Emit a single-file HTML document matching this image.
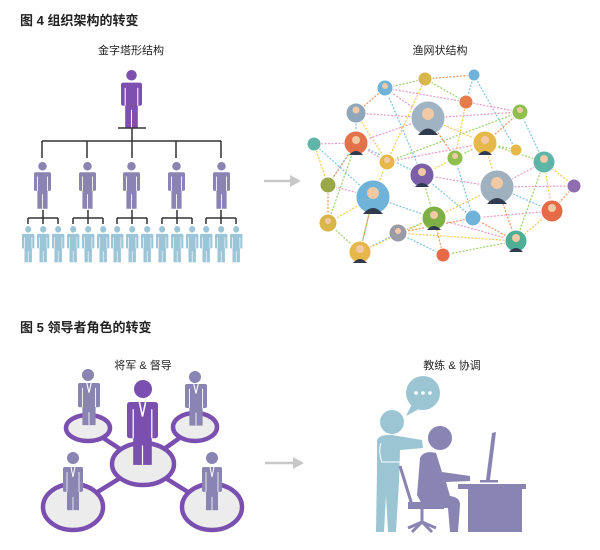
<!DOCTYPE html>
<html><head><meta charset="utf-8"><style>
body{margin:0;background:#fff}
svg{display:block}
text{font-family:"Liberation Sans","Noto Sans CJK SC",sans-serif}
</style></head><body>
<svg width="600" height="550" viewBox="0 0 600 550" xmlns="http://www.w3.org/2000/svg">
<defs>
<g id="p">
<circle cx="10" cy="5" r="5"/>
<rect x="0" y="12" width="20" height="22" rx="2"/>
<rect x="4" y="30" width="12" height="25"/>
<path d="M4 17V34M16 17V34M10 38V55" stroke="#fff" stroke-width="1" fill="none"/>
</g>
<g id="b">
<rect x="0" y="0" width="20" height="30" rx="2"/>
<rect x="4" y="28" width="12" height="24"/>
<path d="M8 0L10 12L12 0" stroke="#fff" stroke-width="1" fill="none"/>
<path d="M4 6V30M16 6V30M10 36V52" stroke="#fff" stroke-width="0.8" fill="none"/>
</g>
</defs>

<text x="20" y="25" font-size="13" font-weight="bold" fill="#222">图 4  组织架构的转变</text>
<text x="131" y="54" font-size="11" text-anchor="middle" fill="#222">金字塔形结构</text>
<text x="440" y="54" font-size="11" text-anchor="middle" fill="#222">渔网状结构</text>

<!-- pyramid -->
<use href="#p" fill="#7d4fae" transform="translate(121,70) scale(1.05)"/>
<g stroke="#333" stroke-width="1.5" fill="none">
<path d="M118 128H146M132 128V141M42 141H221"/>
<path d="M42 141V158M87 141V158M132 141V158M176 141V158M221 141V158"/>
<path d="M43 210V218M88 210V218M132 210V218M177 210V218M221 210V218"/>
<path d="M28 218H58M73 218H103M117 218H147M162 218H192M206 218H236"/>
<path d="M28 218V224M43 218V224M58 218V224M73 218V224M88 218V224M103 218V224M117 218V224M132 218V224M147 218V224M162 218V224M177 218V224M192 218V224M206 218V224M221 218V224M236 218V224"/>
</g>
<g fill="#8b84b3">
<use href="#p" transform="translate(34,162) scale(0.85)"/>
<use href="#p" transform="translate(79,162) scale(0.85)"/>
<use href="#p" transform="translate(123,162) scale(0.85)"/>
<use href="#p" transform="translate(168,162) scale(0.85)"/>
<use href="#p" transform="translate(213,162) scale(0.85)"/>
</g>
<g fill="#9cc6d8">
<use href="#p" transform="translate(22,226) scale(0.62,0.66)"/>
<use href="#p" transform="translate(37,226) scale(0.62,0.66)"/>
<use href="#p" transform="translate(52,226) scale(0.62,0.66)"/>
<use href="#p" transform="translate(67,226) scale(0.62,0.66)"/>
<use href="#p" transform="translate(82,226) scale(0.62,0.66)"/>
<use href="#p" transform="translate(97,226) scale(0.62,0.66)"/>
<use href="#p" transform="translate(111,226) scale(0.62,0.66)"/>
<use href="#p" transform="translate(126,226) scale(0.62,0.66)"/>
<use href="#p" transform="translate(141,226) scale(0.62,0.66)"/>
<use href="#p" transform="translate(156,226) scale(0.62,0.66)"/>
<use href="#p" transform="translate(171,226) scale(0.62,0.66)"/>
<use href="#p" transform="translate(186,226) scale(0.62,0.66)"/>
<use href="#p" transform="translate(200,226) scale(0.62,0.66)"/>
<use href="#p" transform="translate(215,226) scale(0.62,0.66)"/>
<use href="#p" transform="translate(230,226) scale(0.62,0.66)"/>
</g>

<!-- arrows -->
<g stroke="#c8c8c8" stroke-width="2.5" fill="#c8c8c8">
<path d="M264 181H292"/><path d="M290 175L301 181L290 187Z" stroke="none"/>
<path d="M265 463H295"/><path d="M293 457L304 463L293 469Z" stroke="none"/>
</g>

<!-- network edges -->
<g stroke-width="1.2" stroke-dasharray="2,1.5" fill="none">
<path stroke="#e79ac0" d="M385 88L428 118M385 88L466 102M356 113L428 118M314 144L356 143M356 143L428 118M428 118L520 112M466 102L520 112M356 143L387 162M387 162L485 143M422 175L497 187M497 187L574 186M544 162L497 187M473 218L552 211M434 218L516 241M328 185L373 197"/>
<path stroke="#9bd06a" d="M425 79L466 102M425 79L385 88M356 143L328 223M387 162L520 112M455 158L485 143M485 143L516 150M422 175L434 218M373 197L360 252M434 218L398 233M516 241L443 255M544 162L516 241M328 223L360 252M485 143L544 162"/>
<path stroke="#7fc4e0" d="M385 88L422 175M474 75L516 150M474 75L466 102M356 113L356 143M314 144L373 197M356 143L422 175M455 158L473 218M497 187L552 211M422 175L473 218M373 197L434 218M398 233L443 255M328 185L356 143M360 252L398 233M520 112L544 162"/>
<path stroke="#f2c94c" d="M425 79L387 162M428 118L485 143M356 113L387 162M455 158L422 175M387 162L373 197M485 143L497 187M544 162L574 186M434 218L497 187M328 223L373 197M360 252L434 218M516 241L552 211M314 144L328 185M398 233L516 241M466 102L455 158M544 162L552 211"/>
<path stroke="#f0935a" d="M425 79L474 75M356 113L385 88M356 143L328 185M428 118L455 158M520 112L485 143M473 218L516 241M443 255L434 218M328 223L328 185M552 211L574 186M497 187L516 241M398 233L473 218M360 252L373 197"/>
</g>
<g stroke="#fff" stroke-width="1">
<circle cx="425" cy="79" r="7" fill="#d8b64a"/>
<circle cx="474" cy="75" r="6" fill="#6fb3d9"/>
<circle cx="385" cy="88" r="8" fill="#6fb3d9"/>
<circle cx="466" cy="102" r="7" fill="#e57c4a"/>
<circle cx="428" cy="118" r="17" fill="#9fb3c2"/>
<circle cx="356" cy="113" r="10" fill="#8fa7ba"/>
<circle cx="520" cy="112" r="8" fill="#8fbf4e"/>
<circle cx="356" cy="143" r="12" fill="#e3714a"/>
<circle cx="314" cy="144" r="7" fill="#5fb5a8"/>
<circle cx="485" cy="143" r="12" fill="#e6b84a"/>
<circle cx="516" cy="150" r="6" fill="#e6b84a"/>
<circle cx="387" cy="162" r="8" fill="#e6b84a"/>
<circle cx="455" cy="158" r="8" fill="#8fbf4e"/>
<circle cx="422" cy="175" r="12" fill="#7a5ea8"/>
<circle cx="544" cy="162" r="11" fill="#5fb5a8"/>
<circle cx="328" cy="185" r="8" fill="#9aa84a"/>
<circle cx="497" cy="187" r="17" fill="#9fb0bf"/>
<circle cx="574" cy="186" r="7" fill="#8e6eb0"/>
<circle cx="373" cy="197" r="17" fill="#6fb3d9"/>
<circle cx="552" cy="211" r="11" fill="#e66a45"/>
<circle cx="434" cy="218" r="12" fill="#7fb045"/>
<circle cx="473" cy="218" r="8" fill="#6fb3d9"/>
<circle cx="328" cy="223" r="9" fill="#d8b64a"/>
<circle cx="398" cy="233" r="9" fill="#9a9aa6"/>
<circle cx="516" cy="241" r="11" fill="#4fae96"/>
<circle cx="360" cy="252" r="11" fill="#e6b84a"/>
<circle cx="443" cy="255" r="7" fill="#e66a45"/>
</g>
<g fill="#f1c9a5">
<circle cx="428" cy="114" r="6"/><circle cx="497" cy="183" r="6"/><circle cx="373" cy="193" r="6"/>
<circle cx="356" cy="140" r="4"/><circle cx="485" cy="140" r="4"/><circle cx="422" cy="172" r="4"/>
<circle cx="434" cy="215" r="4"/><circle cx="516" cy="238" r="4"/><circle cx="552" cy="208" r="4"/>
<circle cx="544" cy="159" r="4"/><circle cx="360" cy="249" r="4"/><circle cx="356" cy="110" r="3.5"/>
<circle cx="385" cy="86" r="3"/><circle cx="387" cy="160" r="3"/><circle cx="455" cy="156" r="3"/>
<circle cx="328" cy="221" r="3"/><circle cx="398" cy="231" r="3"/><circle cx="520" cy="110" r="3"/>
</g>
<g fill="#2f3a4f">
<path d="M418 135Q428 122 438 135Z"/><path d="M487 204Q497 192 507 204Z"/><path d="M363 214Q373 202 383 214Z"/>
<path d="M349 155Q356 147 363 155Z"/><path d="M478 155Q485 147 492 155Z"/><path d="M415 187Q422 179 429 187Z"/>
<path d="M427 230Q434 222 441 230Z"/><path d="M509 252Q516 244 523 252Z"/><path d="M353 263Q360 255 367 263Z"/>
</g>

<!-- Figure 5 -->
<text x="20" y="332" font-size="13" font-weight="bold" fill="#222">图 5  领导者角色的转变</text>
<text x="143" y="369" font-size="11" text-anchor="middle" fill="#222">将军 &amp; 督导</text>
<text x="452" y="369" font-size="11" text-anchor="middle" fill="#222">教练 &amp; 协调</text>

<g stroke="#7b4fb0" stroke-width="4.5" fill="#ececec">
<path d="M143 464L88 428M143 464L195 427M143 464L73 507M143 464L212 507" fill="none"/>
<ellipse cx="88" cy="428" rx="22" ry="13"/>
<ellipse cx="195" cy="427" rx="22" ry="14"/>
<ellipse cx="73" cy="507" rx="30" ry="23"/>
<ellipse cx="212" cy="507" rx="30" ry="23"/>
<ellipse cx="143" cy="464" rx="31" ry="21"/>
</g>
<g fill="#8a84b2">
<circle cx="88" cy="375" r="6"/><use href="#b" transform="translate(78,383) scale(1.1,0.81)"/>
<circle cx="195" cy="377" r="6"/><use href="#b" transform="translate(185,384) scale(1.1,0.8)"/>
<circle cx="73" cy="458" r="6"/><use href="#b" transform="translate(63,467) scale(1,0.83)"/>
<circle cx="212" cy="458" r="6"/><use href="#b" transform="translate(202,467) scale(1,0.83)"/>
</g>
<g fill="#7b4fb0">
<circle cx="143" cy="389" r="9"/><use href="#b" transform="translate(127,402) scale(1.55,1.21)"/>
</g>

<!-- coach -->
<circle cx="423" cy="393" r="17" fill="#9cc5d3"/>
<path d="M412 404L406 416L419 409Z" fill="#9cc5d3"/>
<g fill="#fff"><circle cx="416" cy="393" r="1.8"/><circle cx="423" cy="393" r="1.8"/><circle cx="430" cy="393" r="1.8"/></g>
<g fill="#9cc5d3">
<circle cx="392" cy="422" r="12"/>
<path d="M377 440Q380 434 392 435L422 440L423 448L400 450L399 482L396 532L388 532L386 495L384 532L376 532L377 470Z"/>
</g>
<path d="M381 443Q378 452 382 462L402 462" stroke="#fff" stroke-width="1" fill="none"/>
<g stroke="#8a84b2" stroke-width="3" fill="none">
<path d="M400 466L412 505"/><path d="M422 508V522M408 528L422 522L436 528M412 532L422 522L432 532"/>
</g>
<g fill="#8a84b2">
<path d="M408 502H444V509H408Z"/>
<circle cx="440" cy="438" r="12"/>
<path d="M420 458Q424 450 436 453L442 472L470 476L470 481L446 482L450 496Q460 497 460 505L458 532L450 532L448 508L424 508L417 495Z"/>
<rect x="458" y="484" width="68" height="5"/>
<rect x="468" y="489" width="54" height="43"/>
<path d="M492 433L496 432L490 480H486Z"/>
<rect x="480" y="480" width="18" height="2.5"/>
</g>
</svg>
</body></html>
